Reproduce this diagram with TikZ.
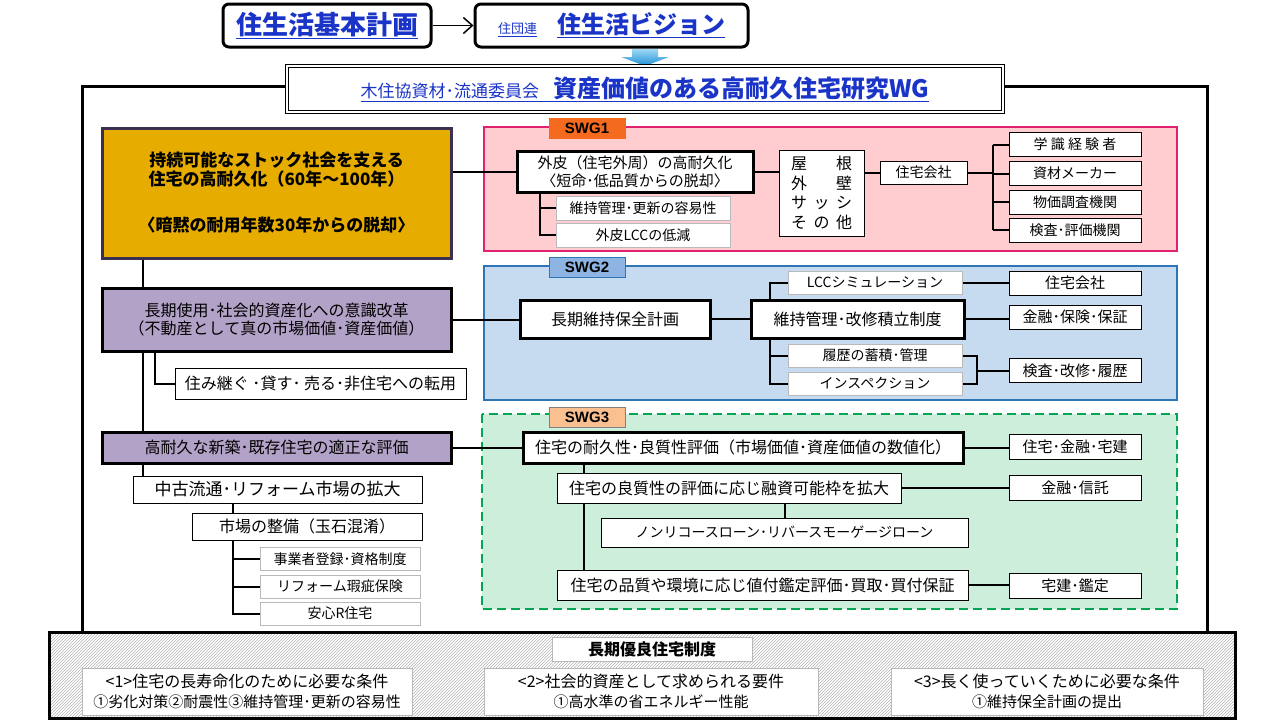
\documentclass[tikz,border=0pt]{standalone}
\usepackage{fontspec}
\setmainfont{Noto Sans CJK JP}
\newfontfamily\tagfont{Liberation Sans}
\usetikzlibrary{arrows.meta,patterns}
\definecolor{lnkblue}{HTML}{1A34C8}
\definecolor{goldfill}{HTML}{E6AD00}
\definecolor{goldline}{HTML}{3B3050}
\definecolor{purpfill}{HTML}{B3A2C7}
\definecolor{pinkfill}{HTML}{FFCCD0}
\definecolor{pinkline}{HTML}{E0226E}
\definecolor{orangetag}{HTML}{F46A1E}
\definecolor{bluefill}{HTML}{C6DBF0}
\definecolor{blueline}{HTML}{2E75B6}
\definecolor{bluetag}{HTML}{8DB4E2}
\definecolor{greenfill}{HTML}{CCEEDA}
\definecolor{greenline}{HTML}{00A651}
\definecolor{peachtag}{HTML}{FAC090}
\definecolor{arrtop}{HTML}{9ED8F6}
\definecolor{arrbot}{HTML}{1E8FD5}
\newcommand\fsz[2]{\fontsize{#1}{#2}\selectfont}
\begin{document}
\begin{tikzpicture}[x=1pt, y=-1pt,
  plainbox/.style={draw, fill=white, line width=1pt, inner sep=0pt, align=center},
  thickbox/.style={plainbox, line width=3pt},
  greybox/.style={plainbox, draw=gray!55},
  purplebox/.style={thickbox, fill=purpfill},
  titlebox/.style={plainbox, rounded corners=6pt, line width=3pt, text=lnkblue},
  tagbox/.style={line width=1pt, inner sep=0pt, minimum width=76, minimum height=20,
                 font={\tagfont\bfseries\fsz{15}{15}}},
  conn/.style={line width=2pt},
  linkarrow/.style={line width=1.5pt, -{Straight Barb[length=9pt, width=16pt]}}
]
  \useasboundingbox (0,0) rectangle (1280,720);

  % 外枠と各SWGの領域
  \draw[line width=3pt] (82,631) -- (82,86) -- (1207,86) -- (1207,631);
  \draw[line width=3pt, pattern=north east lines, pattern color=gray!60] (49,632) rectangle (1235,718);
  \draw[line width=2pt, draw=pinkline, fill=pinkfill] (484,127) rectangle (1177,251);
  \draw[line width=2pt, draw=blueline, fill=bluefill] (484,266) rectangle (1177,400);
  \draw[line width=2pt, draw=greenline, fill=greenfill, dash pattern=on 9pt off 5pt] (482,414) rectangle (1177,609);

  % 上部
  \node[titlebox, minimum width=208, minimum height=43] (plan) at (327,25.5)
    {\fsz{26}{26}\bfseries\underline{住生活基本計画}};
  \node[titlebox, minimum width=273, minimum height=43] (vision) at (611.5,25.5)
    {\fsz{13}{13}\underline{住団連}\hspace{20pt}\fsz{24}{24}\bfseries\underline{住生活ビジョン}};
  \draw[linkarrow] (plan.east) -- (vision.west);
  \shade[top color=arrtop, bottom color=arrbot] (632,49) -- (658,49) -- (658,57) -- (669,57)
    -- (645,66) -- (621,57) -- (632,57) -- cycle;
  \node[plainbox, double, double distance=2pt, line width=0.8pt, minimum width=716,
        minimum height=46, text=lnkblue] (wg) at (645,89)
    {\underline{\fsz{17}{17}木住協資材･流通委員会\hspace{14pt}\fsz{24}{24}\bfseries 資産価値のある高耐久住宅研究WG}};

  % 左列
  \node[thickbox, fill=goldfill, draw=goldline, minimum width=349, minimum height=130,
        font={\bfseries\fsz{17}{19}}] (gold) at (276.5,193)
    {持続可能なストック社会を支える\\住宅の高耐久化（60年～100年）\\[27pt]〈暗黙の耐用年数30年からの脱却〉};
  \node[purplebox, minimum width=349, minimum height=63, font={\fsz{16}{18}}] (ishiki) at (276.5,319.5)
    {長期使用･社会的資産化への意識改革\\（不動産として真の市場価値･資産価値）};
  \node[plainbox, minimum width=291, minimum height=31, font={\fsz{16}{16}}] (tenyo) at (320.5,383.5)
    {住み継ぐ ･貸す･ 売る･非住宅への転用};
  \node[purplebox, minimum width=349, minimum height=31, font={\fsz{16}{16}}] (hyokaL) at (276.5,447.5)
    {高耐久な新築･既存住宅の適正な評価};
  \node[plainbox, minimum width=289, minimum height=27, font={\fsz{17}{17}}] (ryutsu) at (277.5,489.5)
    {中古流通･リフォーム市場の拡大};
  \node[plainbox, minimum width=230, minimum height=27, font={\fsz{16}{16}}] (seibi) at (307,526.5)
    {市場の整備（玉石混淆）};
  \foreach \n/\y/\t in {toroku/559/事業者登録･資格制度, kashi/586.5/リフォーム瑕疵保険, anshin/613.5/安心R住宅}
    \node[greybox, minimum width=160, minimum height=23, font={\fsz{14}{14}}] (\n) at (340,\y) {\t};

  \coordinate (trunk) at (143,0);
  \coordinate (brL) at (155,0);
  \coordinate (spL) at (233,0);
  \draw[conn] (gold.south -| trunk) -- (ishiki.north -| trunk);
  \draw[conn] (ishiki.south -| trunk) -- (hyokaL.north -| trunk);
  \draw[conn] (hyokaL.south -| trunk) -- (ryutsu.north -| trunk);
  \draw[conn] (ishiki.south -| brL) |- (tenyo.west);
  \draw[conn] (ryutsu.south -| spL) -- (seibi.north -| spL);
  \draw[conn] (seibi.south -| spL) |- (anshin.west);
  \foreach \n in {toroku,kashi}
    \draw[conn] (spL |- \n.west) -- (\n.west);

  % SWG1
  \node[tagbox, fill=orangetag, draw=orangetag] (tag1) at (587,128) {SWG1};
  \node[thickbox, minimum width=236, minimum height=41, font={\fsz{15}{18}}] (gaihi) at (635,171.5)
    {外皮（住宅外周）の高耐久化\\〈短命･低品質からの脱却〉};
  \node[greybox, minimum width=174, minimum height=24, font={\fsz{14}{14}}] (yoi) at (643,208)
    {維持管理･更新の容易性};
  \node[greybox, minimum width=174, minimum height=24, font={\fsz{14}{14}}] (lccL) at (643,235)
    {外皮LCCの低減};
  \node[plainbox, minimum width=85, minimum height=86, font={\fsz{16}{19.5}}] (buii) at (821.5,193)
    {屋\hspace{29pt}根\\外\hspace{29pt}壁\\サ\hspace{6.5pt}ッ\hspace{6.5pt}シ\\そ\hspace{6.5pt}の\hspace{6.5pt}他};
  \node[plainbox, minimum width=87, minimum height=23, font={\fsz{14}{14}}] (kaisha1) at (923.5,172.5)
    {住宅会社};
  \foreach \n/\y/\t in {gakushiki/144.5/学 識 経 験 者, maker/173.5/資材メーカー, bukka/202/物価調査機関, kensa/230/検査･評価機関}
    \node[plainbox, minimum width=132, minimum height=24, font={\fsz{14}{14}}] (\n) at (1075,\y) {\t};

  \coordinate (spA) at (540,0);
  \coordinate (spB) at (993,0);
  \draw[conn] (gaihi.west -| gold.east) -- (gaihi.west);
  \draw[conn] (gaihi.south -| spA) |- (lccL.west);
  \draw[conn] (spA |- yoi.west) -- (yoi.west);
  \draw[conn] (gaihi.east) -- (gaihi.east -| buii.west);
  \draw[conn] (kaisha1.west -| buii.east) -- (kaisha1.west);
  \draw[conn] (kaisha1.east) -- (kaisha1.east -| spB);
  \draw[conn] (spB |- gakushiki.west) -- (spB |- kensa.west);
  \foreach \n in {gakushiki,maker,bukka,kensa}
    \draw[conn] (spB |- \n.west) -- (\n.west);

  % SWG2
  \node[tagbox, fill=bluetag, draw=blueline] (tag2) at (587,267) {SWG2};
  \node[thickbox, minimum width=190, minimum height=38, font={\fsz{16}{16}}] (hozen) at (615,319)
    {長期維持保全計画};
  \node[thickbox, minimum width=213, minimum height=38, font={\fsz{16}{16}}] (tsumitate) at (857.5,319)
    {維持管理･改修積立制度};
  \foreach \n/\y/\t in {lccsim/282.5/LCCシミュレーション, chikuseki/355.5/履歴の蓄積･管理, insp/383.5/インスペクション}
    \node[greybox, minimum width=174, minimum height=23, font={\fsz{14}{14}}] (\n) at (875,\y) {\t};
  \foreach \n/\y/\t in {kaisha2/283/住宅会社, hosho/317/金融･保険･保証, rireki/370.5/検査･改修･履歴}
    \node[plainbox, minimum width=132, minimum height=24, font={\fsz{15}{15}}] (\n) at (1075,\y) {\t};

  \coordinate (spC) at (770,0);
  \coordinate (brk) at (977,0);
  \draw[conn] (ishiki.east) -- (ishiki.east -| hozen.west);
  \draw[conn] (hozen.east) -- (tsumitate.west);
  \draw[conn] (lccsim.west) -| (tsumitate.north -| spC);
  \draw[conn] (tsumitate.south -| spC) |- (insp.west);
  \draw[conn] (spC |- chikuseki.west) -- (chikuseki.west);
  \draw[conn] (lccsim.east) -- (lccsim.east -| kaisha2.west);
  \draw[conn] (tsumitate.east) -- (tsumitate.east -| hosho.west);
  \draw[conn] (chikuseki.east) -| (insp.east -| brk) -- (insp.east);
  \draw[conn] (brk |- rireki.west) -- (rireki.west);

  % SWG3
  \node[tagbox, fill=peachtag, draw=gray] (tag3) at (587,417) {SWG3};
  \node[thickbox, minimum width=440, minimum height=31, font={\fsz{16}{16}}] (suchika) at (743,447.5)
    {住宅の耐久性･良質性評価（市場価値･資産価値の数値化）};
  \node[plainbox, minimum width=344, minimum height=30, font={\fsz{16}{16}}] (yushi) at (729,488)
    {住宅の良質性の評価に応じ融資可能枠を拡大};
  \node[plainbox, minimum width=367, minimum height=29, font={\fsz{14}{14}}] (nonrec) at (784.5,532.5)
    {ノンリコースローン･リバースモーゲージローン};
  \node[plainbox, minimum width=411, minimum height=30, font={\fsz{16}{16}}] (kantei) at (762.5,585)
    {住宅の品質や環境に応じ値付鑑定評価･買取･買付保証};
  \foreach \n/\y/\t in {kinken/446.5/住宅･金融･宅建, shintaku/488/金融･信託, kanteiR/585.5/宅建･鑑定}
    \node[plainbox, minimum width=132, minimum height=25, font={\fsz{15}{15}}] (\n) at (1075,\y) {\t};

  \coordinate (spD) at (584,0);
  \draw[conn] (hyokaL.east) -- (suchika.west);
  \draw[conn] (suchika.east) -- (suchika.east -| kinken.west);
  \draw[conn] (suchika.south -| spD) -- (yushi.north -| spD);
  \draw[conn] (yushi.south -| spD) -- (kantei.north -| spD);
  \draw[conn] (yushi.east) -- (yushi.east -| shintaku.west);
  \draw[conn] (yushi.south -| nonrec.north) -- (nonrec.north);
  \draw[conn] (kantei.east) -- (kantei.east -| kanteiR.west);

  % 長期優良住宅制度
  \node[greybox, minimum width=200, minimum height=24, font={\bfseries\fsz{16}{16}}] (seido) at (652,649)
    {長期優良住宅制度};
  \node[greybox, minimum width=330, minimum height=47, font={\fsz{16}{20}}] (joken1) at (247,691.5)
    {<1>住宅の長寿命化のために必要な条件\\{\fsz{15}{15}①劣化対策②耐震性③維持管理･更新の容易性}};
  \node[greybox, minimum width=334, minimum height=47, font={\fsz{16}{20}}] (joken2) at (651,691.5)
    {<2>社会的資産として求められる要件\\{\fsz{15}{15}①高水準の省エネルギー性能}};
  \node[greybox, minimum width=312, minimum height=47, font={\fsz{16}{20}}] (joken3) at (1047,691.5)
    {<3>長く使っていくために必要な条件\\{\fsz{15}{15}①維持保全計画の提出}};
\end{tikzpicture}
\end{document}
